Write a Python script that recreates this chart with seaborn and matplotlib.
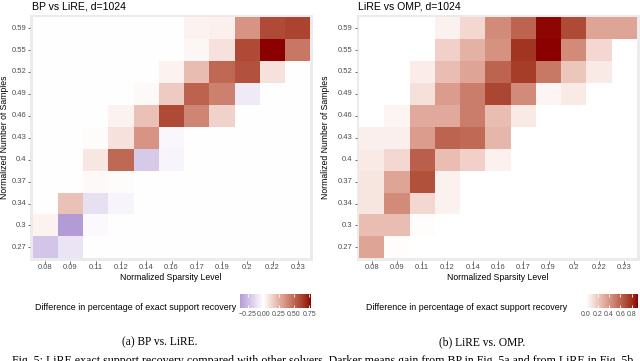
import numpy as np
import pandas as pd
import matplotlib
matplotlib.use("Agg")
import matplotlib.pyplot as plt
import seaborn as sns
from matplotlib.colors import ListedColormap

# ---------------- data ----------------
sparsity = ["0.08", "0.09", "0.11", "0.12", "0.14", "0.16", "0.17", "0.19", "0.2", "0.22", "0.23"]
samples = ["0.59", "0.55", "0.52", "0.49", "0.46", "0.43", "0.4", "0.37", "0.34", "0.3", "0.27"]  # top -> bottom

bp_vs_lire = [
    [0.00, 0.00, 0.00, 0.00, 0.00, 0.00, 0.04, 0.05, 0.35, 0.60, 0.62],
    [0.00, 0.00, 0.00, 0.00, 0.00, 0.00, 0.03, 0.10, 0.60, 0.78, 0.45],
    [0.00, 0.00, 0.00, 0.00, 0.00, 0.04, 0.22, 0.50, 0.58, 0.10, 0.00],
    [0.00, 0.00, 0.00, 0.00, 0.02, 0.17, 0.52, 0.42, -0.08, 0.00, 0.00],
    [0.00, 0.00, 0.00, 0.04, 0.20, 0.60, 0.40, 0.15, 0.00, 0.00, 0.00],
    [0.00, 0.00, 0.01, 0.10, 0.35, -0.03, 0.00, 0.00, 0.00, 0.00, 0.00],
    [0.00, 0.00, 0.08, 0.50, -0.20, -0.04, 0.00, 0.00, 0.00, 0.00, 0.00],
    [0.00, 0.00, 0.02, 0.01, 0.00, 0.00, 0.00, 0.00, 0.00, 0.00, 0.00],
    [0.00, 0.20, -0.12, -0.04, 0.00, 0.00, 0.00, 0.00, 0.00, 0.00, 0.00],
    [0.04, -0.38, -0.02, 0.00, 0.00, 0.00, 0.00, 0.00, 0.00, 0.00, 0.00],
    [-0.22, -0.10, 0.00, 0.00, 0.00, 0.00, 0.00, 0.00, 0.00, 0.00, 0.00],
]

lire_vs_omp = [
    [0.00, 0.00, 0.00, 0.05, 0.15, 0.45, 0.60, 0.90, 0.70, 0.35, 0.35],
    [0.00, 0.00, 0.00, 0.18, 0.30, 0.42, 0.78, 0.91, 0.45, 0.15, 0.00],
    [0.00, 0.00, 0.07, 0.25, 0.35, 0.60, 0.75, 0.52, 0.22, 0.08, 0.00],
    [0.00, 0.00, 0.12, 0.38, 0.50, 0.72, 0.45, 0.04, 0.08, 0.00, 0.00],
    [0.00, 0.04, 0.33, 0.33, 0.50, 0.25, 0.08, 0.00, 0.00, 0.00, 0.00],
    [0.06, 0.06, 0.38, 0.60, 0.58, 0.28, 0.00, 0.00, 0.00, 0.00, 0.00],
    [0.08, 0.15, 0.62, 0.25, 0.18, 0.05, 0.00, 0.00, 0.00, 0.00, 0.00],
    [0.10, 0.35, 0.68, 0.05, 0.00, 0.00, 0.00, 0.00, 0.00, 0.00, 0.00],
    [0.10, 0.45, 0.15, 0.05, 0.00, 0.00, 0.00, 0.00, 0.00, 0.00, 0.00],
    [0.25, 0.25, 0.01, 0.00, 0.00, 0.00, 0.00, 0.00, 0.00, 0.00, 0.00],
    [0.35, 0.01, 0.00, 0.00, 0.00, 0.00, 0.00, 0.00, 0.00, 0.00, 0.00],
]

left_range = (-0.38, 0.78)
right_range = (-0.30, 0.91)
left_ticks = [-0.25, 0.0, 0.25, 0.5, 0.75]
left_ticklabels = ["\u22120.25", "0.00", "0.25", "0.50", "0.75"]
right_ticks = [0.0, 0.2, 0.4, 0.6, 0.8]
right_ticklabels = ["0.0", "0.2", "0.4", "0.6", "0.8"]

# ---------------- colour helpers (CIELAB interpolation like ggplot) ----------------
def _hex_rgb(h):
    h = h.lstrip("#")
    return np.array([int(h[i:i + 2], 16) / 255 for i in (0, 2, 4)])

_M = np.array([[0.4124, 0.3576, 0.1805], [0.2126, 0.7152, 0.0722], [0.0193, 0.1192, 0.9505]])
_WP = np.array([0.95047, 1.0, 1.08883])

def _to_lab(rgb):
    lin = np.where(rgb <= 0.04045, rgb / 12.92, ((rgb + 0.055) / 1.055) ** 2.4)
    xyz = _M @ lin / _WP
    d = 6 / 29
    f = np.where(xyz > d ** 3, np.cbrt(xyz), xyz / (3 * d * d) + 4 / 29)
    return np.array([116 * f[1] - 16, 500 * (f[0] - f[1]), 200 * (f[1] - f[2])])

def _from_lab(lab):
    fy_ = (lab[0] + 16) / 116
    fx_ = fy_ + lab[1] / 500
    fz_ = fy_ - lab[2] / 200
    d = 6 / 29
    f = np.array([fx_, fy_, fz_])
    xyz = np.where(f > d, f ** 3, 3 * d * d * (f - 4 / 29)) * _WP
    lin = np.linalg.solve(_M, xyz)
    lin = np.clip(lin, 0, 1)
    rgb = np.where(lin <= 0.0031308, lin * 12.92, 1.055 * lin ** (1 / 2.4) - 0.055)
    return np.clip(rgb, 0, 1)

def gradient2_cmap(low, mid, high, vmin, vmax, n=256):
    lo, mi, hi = (_to_lab(_hex_rgb(c)) for c in (low, mid, high))
    m = max(abs(vmin), abs(vmax))
    cols = []
    for v in np.linspace(vmin, vmax, n):
        t = min(abs(v) / m, 1.0)
        end = hi if v >= 0 else lo
        cols.append(_from_lab(mi + (end - mi) * t))
    return ListedColormap(cols)

# ---------------- figure ----------------
plt.rcParams["font.family"] = ["Liberation Sans", "DejaVu Sans"]
W, H = 640, 361
fig = plt.figure(figsize=(6.4, 3.61), dpi=100)

def fx(px):
    return px / W

def fy(py):
    return 1 - py / H

panels = [
    dict(data=bp_vs_lire, title="BP vs LiRE, d=1024", left=30, cax_left=240, cax_w=71,
         low="#5e3ca8", rng=left_range, ticks=left_ticks, tl=left_ticklabels,
         ylab_x=5, ctitle_x=236, sub="(a) BP vs. LiRE.", sub_x=160),
    dict(data=lire_vs_omp, title="LiRE vs OMP, d=1024", left=356.5, cax_left=569, cax_w=69,
         low="#FFFFFF", rng=right_range, ticks=right_ticks, tl=right_ticklabels,
         ylab_x=325, ctitle_x=567, sub="(b) LiRE vs. OMP.", sub_x=482),
]

top, bottom = 15, 260.5
for p in panels:
    df = pd.DataFrame(p["data"], index=samples, columns=sparsity)
    ax = fig.add_axes([fx(p["left"]), fy(bottom), fx(283), (bottom - top) / H])
    cax = fig.add_axes([fx(p["cax_left"]), fy(308), fx(p["cax_w"]), 14 / H])
    vmin, vmax = p["rng"]
    cmap = gradient2_cmap(p["low"], "#FFFFFF", "#8B0000", vmin, vmax)
    sns.heatmap(df, ax=ax, cmap=cmap, vmin=vmin, vmax=vmax, linewidths=0,
                cbar=True, cbar_ax=cax,
                cbar_kws=dict(orientation="horizontal", ticks=p["ticks"]))
    ax.set_facecolor("#EBEBEB")
    ax.set_xlim(-0.1, len(sparsity) + 0.1)
    ax.set_ylim(len(samples) + 0.1, -0.1)
    ax.set_yticklabels(samples, rotation=0)
    ax.set_xticklabels(sparsity, rotation=0)
    ax.tick_params(axis="both", labelsize=5.5, labelcolor="#4D4D4D", color="#333333",
                   length=1.8, width=0.5, pad=1.0)
    ax.set_xlabel("")
    ax.set_ylabel("")
    for s in ax.spines.values():
        s.set_visible(False)
    fig.text(fx(p["left"] + 2), fy(6.5), p["title"], fontsize=7.6, ha="left", va="center")
    fig.text(fx(p["left"] + 141), fy(277), "Normalized Sparsity Level", fontsize=6.2,
             ha="center", va="center")
    fig.text(fx(p["ylab_x"]), fy(137), "Normalized Number of Samples", fontsize=6.2,
             ha="center", va="center", rotation=90)
    # colourbar styling
    cb = ax.collections[0].colorbar
    cb.outline.set_visible(False)
    cb.set_ticks(p["ticks"])
    cb.set_ticklabels(p["tl"])
    cax.tick_params(axis="x", direction="in", color="white", length=2.5, width=0.6,
                    labelsize=5.0, labelcolor="#4D4D4D", pad=2.5)
    cax.tick_params(axis="x", top=True)
    fig.text(fx(p["ctitle_x"]), fy(307), "Difference in percentage of exact support recovery",
             fontsize=6.4, ha="right", va="center")
    fig.text(fx(p["sub_x"]), fy(342), p["sub"], fontsize=8.3, ha="center", va="center",
             family=["Liberation Serif", "DejaVu Serif"])

fig.text(fx(12), fy(355),
         "Fig. 5: LiRE exact support recovery compared with other solvers. Darker means gain from BP in Fig. 5a and from LiRE in Fig. 5b",
         fontsize=8.6, ha="left", va="top", family=["Liberation Serif", "DejaVu Serif"])

fig.savefig("out.png", dpi=100)
